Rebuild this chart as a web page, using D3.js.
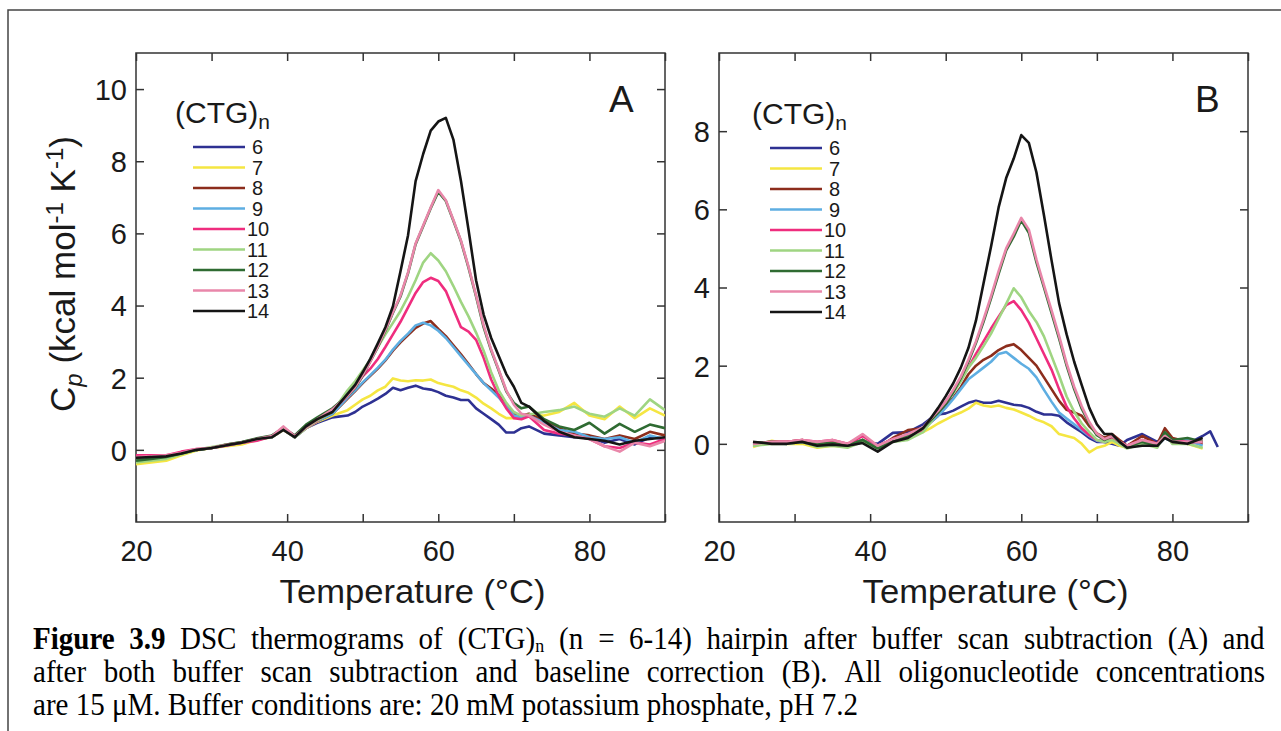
<!DOCTYPE html>
<html>
<head>
<meta charset="utf-8">
<script src="https://cdn.jsdelivr.net/npm/d3@7"></script>
<style>
  body { margin: 0; background: #fff; }
  svg { display: block; }
</style>
</head>
<body>
<script>
var tempsA = [20,22,24,26,28,30,32,34,36,38,39.5,41,42.5,44,46,
  48,49,50,51,52,53,54,55,56,57,58,59,60,61,62,63,64,65,66,67,68,69,70,71,72,
  74,76,78,80,82,84,86,88,90];
var tempsB = [24.5,27,29,31,33,35,37,39,41,43,45,
  47,48,49,50,51,52,53,54,55,56,57,58,59,60,61,62,63,64,65,66,67,68,69,70,71,72,
  73,74,76,78,79,80,82,84,85,86];

// (CTG)n repeat numbers and their line colours
var repeats = ["6","7","8","9","10","11","12","13","14"];
var colors = ["#2e3192","#f5e642","#8c2d1c","#5eaee2","#ef2d7e","#9fd582","#2f6b32","#e987aa","#151515"];

// Panel A: after buffer scan subtraction (kcal mol-1 K-1)
var cpA6 = [-0.3,-0.25,-0.22,-0.1,0.0,0.05,0.12,0.2,0.3,0.35,0.55,0.35,0.6,0.75,0.9,
  0.95,1.05,1.2,1.3,1.42,1.55,1.72,1.65,1.72,1.78,1.7,1.67,1.6,1.5,1.45,1.38,1.38,1.15,1.0,0.85,0.7,0.48,0.48,0.6,0.65,
  0.45,0.4,0.35,0.35,0.2,0.3,0.15,0.35,0.3];
var cpA7 = [-0.4,-0.35,-0.3,-0.15,-0.02,0.05,0.1,0.15,0.28,0.35,0.55,0.35,0.6,0.78,0.95,
  1.1,1.25,1.4,1.5,1.65,1.75,1.98,1.92,1.9,1.93,1.92,1.95,1.85,1.8,1.75,1.65,1.58,1.45,1.28,1.15,1.0,0.88,0.88,0.93,0.95,
  0.95,1.05,1.3,0.95,0.85,1.2,0.88,1.15,0.95];
var cpA8 = [-0.25,-0.22,-0.18,-0.08,0.0,0.05,0.15,0.2,0.3,0.38,0.6,0.35,0.62,0.8,1.0,
  1.42,1.63,1.85,2.05,2.25,2.48,2.75,2.98,3.18,3.38,3.5,3.57,3.35,3.15,2.9,2.65,2.38,2.1,1.85,1.7,1.52,1.25,1.0,0.95,1.0,
  0.8,0.6,0.45,0.4,0.3,0.4,0.3,0.5,0.4];
var cpA9 = [-0.3,-0.25,-0.2,-0.1,0.0,0.05,0.12,0.2,0.28,0.36,0.58,0.35,0.6,0.8,1.0,
  1.45,1.65,1.87,2.07,2.28,2.5,2.78,3.02,3.22,3.45,3.52,3.45,3.3,3.1,2.85,2.6,2.35,2.1,1.85,1.65,1.45,1.2,0.95,0.9,0.95,
  0.75,0.55,0.5,0.35,0.3,0.35,0.2,0.4,0.3];
var cpA10 = [-0.15,-0.15,-0.15,-0.05,0.02,0.05,0.12,0.2,0.25,0.38,0.62,0.38,0.6,0.8,1.1,
  1.5,1.75,2.04,2.25,2.52,2.85,3.2,3.55,3.95,4.35,4.65,4.77,4.68,4.4,3.9,3.4,3.28,3.05,2.55,1.95,1.5,1.15,0.88,0.85,0.93,
  0.55,0.45,0.4,0.3,0.1,0.05,0.2,0.15,0.3];
var cpA11 = [-0.35,-0.3,-0.25,-0.12,0.0,0.08,0.15,0.22,0.3,0.38,0.58,0.35,0.6,0.82,1.05,
  1.65,1.9,2.2,2.5,2.85,3.2,3.52,3.85,4.25,4.7,5.19,5.45,5.25,4.95,4.54,4.1,3.7,3.25,2.75,2.15,1.65,1.3,1.05,0.95,0.98,
  1.05,1.1,1.2,1.0,0.92,1.15,0.95,1.4,1.1];
var cpA12 = [-0.3,-0.25,-0.2,-0.1,0.0,0.05,0.15,0.22,0.32,0.4,0.6,0.4,0.7,0.9,1.15,
  1.5,1.72,2.05,2.45,2.85,3.3,3.8,4.25,4.9,5.7,6.2,6.7,7.15,6.9,6.35,5.78,5.05,4.25,3.4,2.75,2.2,1.62,1.3,1.15,1.2,
  0.85,0.65,0.55,0.75,0.45,0.72,0.5,0.7,0.6];
var cpA13 = [-0.2,-0.18,-0.15,-0.08,0.02,0.06,0.14,0.2,0.3,0.38,0.65,0.38,0.62,0.85,1.12,
  1.5,1.74,2.07,2.45,2.87,3.32,3.82,4.28,4.92,5.72,6.22,6.72,7.2,6.92,6.37,5.8,5.08,4.28,3.45,2.78,2.22,1.65,1.25,1.0,0.95,
  0.7,0.5,0.4,0.3,0.1,-0.05,0.2,0.1,0.25];
var cpA14 = [-0.22,-0.2,-0.18,-0.1,0.0,0.05,0.13,0.2,0.3,0.35,0.55,0.35,0.65,0.85,1.05,
  1.55,1.8,2.15,2.52,2.95,3.4,3.98,4.95,5.95,7.45,8.2,8.85,9.1,9.2,8.6,7.45,6.1,4.7,3.75,3.1,2.6,2.1,1.75,1.3,1.2,
  0.8,0.5,0.35,0.3,0.25,0.15,0.25,0.3,0.35];

// Panel B: after buffer subtraction and baseline correction
var cpB6 = [0.0,0.03,0.02,0.05,-0.05,0.0,-0.05,0.05,0.0,0.28,0.3,
  0.5,0.65,0.75,0.78,0.85,0.95,1.05,1.1,1.05,1.05,1.1,1.05,1.0,0.98,0.92,0.82,0.75,0.75,0.72,0.55,0.42,0.3,0.15,0.05,0.05,0.0,
  -0.05,0.1,0.25,0.05,0.2,0.05,0.0,0.2,0.32,-0.08];
var cpB7 = [-0.08,0.08,0.0,0.0,-0.1,-0.05,-0.08,0.1,-0.05,0.1,0.15,
  0.3,0.4,0.52,0.62,0.72,0.8,0.9,1.05,0.98,0.95,0.98,0.92,0.88,0.8,0.72,0.62,0.55,0.45,0.25,0.2,0.15,0.0,-0.22,-0.1,-0.05,0.05,
  -0.05,-0.1,0.0,-0.05,0.2,0.05,0.0,-0.12,null,null];
var cpB8 = [0.02,0.05,0.05,0.1,0.0,0.05,0.0,0.1,-0.1,0.15,0.35,
  0.4,0.55,0.72,0.95,1.18,1.45,1.78,2.0,2.15,2.25,2.4,2.5,2.55,2.4,2.2,2.0,1.7,1.4,1.1,0.87,0.8,0.72,0.45,0.27,0.15,0.25,
  0.1,-0.05,0.2,0.0,0.4,0.15,0.05,0.0,null,null];
var cpB9 = [-0.05,0.03,0.0,0.05,-0.05,0.0,-0.05,0.1,-0.1,0.1,0.15,
  0.35,0.55,0.72,0.92,1.15,1.4,1.65,1.8,1.95,2.1,2.3,2.35,2.2,2.05,1.92,1.7,1.38,1.08,0.8,0.65,0.5,0.35,0.2,0.08,0.05,0.15,
  0.0,-0.1,0.05,-0.05,0.15,0.05,0.1,-0.05,null,null];
var cpB10 = [0.0,0.05,0.05,0.1,0.05,0.1,0.0,0.2,-0.05,0.12,0.2,
  0.35,0.6,0.85,1.08,1.35,1.65,1.95,2.3,2.62,2.95,3.25,3.55,3.65,3.42,3.1,2.7,2.3,1.9,1.4,0.95,0.65,0.4,0.22,0.1,0.05,0.15,
  0.05,-0.05,0.1,0.0,0.2,0.1,0.05,0.05,null,null];
var cpB11 = [-0.05,0.0,0.0,0.05,-0.08,-0.05,-0.1,0.05,-0.1,0.05,0.1,
  0.3,0.55,0.82,1.05,1.3,1.6,1.95,2.2,2.5,2.82,3.2,3.58,3.98,3.75,3.4,3.12,2.75,2.25,1.75,1.21,0.82,0.52,0.3,0.1,0.05,0.1,
  0.0,-0.12,0.0,-0.1,0.25,0.0,0.0,-0.1,null,null];
var cpB12 = [0.02,0.05,0.02,0.08,0.0,0.02,-0.05,0.1,-0.12,0.08,0.2,
  0.4,0.6,0.8,1.02,1.32,1.68,2.1,2.58,3.12,3.72,4.35,4.95,5.3,5.72,5.4,4.65,4.0,3.35,2.7,2.0,1.4,0.9,0.52,0.22,0.1,0.2,
  0.05,-0.08,0.05,-0.05,0.3,0.1,0.15,0.05,null,null];
var cpB13 = [0.0,0.05,0.05,0.1,0.05,0.1,0.0,0.25,-0.05,0.12,0.25,
  0.42,0.64,0.85,1.08,1.38,1.72,2.15,2.62,3.18,3.78,4.42,5.0,5.38,5.78,5.48,4.72,4.06,3.42,2.76,2.06,1.46,0.96,0.56,0.26,0.12,0.2,
  0.05,-0.05,0.1,0.0,0.2,0.05,0.05,0.05,null,null];
var cpB14 = [0.05,0.0,0.0,0.05,-0.05,-0.02,-0.05,0.02,-0.2,0.05,0.15,
  0.4,0.65,0.92,1.22,1.55,1.95,2.45,3.15,4.1,5.05,6.05,6.8,7.3,7.9,7.7,6.95,5.85,4.7,3.6,2.8,2.1,1.5,0.92,0.5,0.25,0.25,
  0.05,-0.1,-0.05,-0.05,0.15,0.05,0.0,0.15,null,null];

// Tick values
var xTicks = [20,30,40,50,60,70,80,90];
var xTickLabels = [20,40,60,80];
var yTicksA = [0,2,4,6,8,10];
var yTicksB = [0,2,4,6,8];

// Caption lines: "**" marks bold words, "_n" a subscript n
var captionLines = [
  "**Figure **3.9 DSC thermograms of (CTG)_n (n = 6-14) hairpin after buffer scan subtraction (A) and",
  "after both buffer scan subtraction and baseline correction (B). All oligonucleotide concentrations",
  "are 15 \u03bcM. Buffer conditions are: 20 mM potassium phosphate, pH 7.2"
];

var svgWidth = 1281;
var svgHeight = 731;
var sans = "'Liberation Sans', Arial, Helvetica, sans-serif";
var serif = "'Liberation Serif', 'Times New Roman', serif";

var svg = d3.select("body").append("svg")
  .attr("width", svgWidth)
  .attr("height", svgHeight);

// page border (top and left edge of the figure cell)
svg.append("path")
  .attr("d", "M8,731 L8,10 L1281,10")
  .attr("fill", "none")
  .attr("stroke", "#444")
  .attr("stroke-width", 1.5);

function drawPanel(p) {
  var width = p.right - p.left;
  var height = p.bottom - p.top;
  var g = svg.append("g").attr("transform", `translate(${p.left}, ${p.top})`);

  var x = d3.scaleLinear().domain([20, 90]).range([0, width]);
  var y = d3.scaleLinear().domain(p.yDomain).range([height, 0]);

  // Axes: inward ticks on all four sides
  g.append("g")
    .attr("transform", `translate(0, ${height})`)
    .call(d3.axisBottom(x).tickValues(xTicks).tickSize(-8).tickPadding(18)
      .tickFormat(d => xTickLabels.indexOf(d) >= 0 ? d : ""));
  g.append("g")
    .call(d3.axisTop(x).tickValues(xTicks).tickSize(-8).tickFormat(""));
  var left = g.append("g")
    .call(d3.axisLeft(y).tickValues(p.yTicks).tickSize(-8).tickPadding(9));
  g.append("g")
    .attr("transform", `translate(${width}, 0)`)
    .call(d3.axisRight(y).tickValues(p.yTicks).tickSize(-8).tickFormat(""));

  g.selectAll(".domain").remove();
  g.selectAll(".tick line").attr("stroke", "#333").attr("stroke-width", 1.5);
  g.selectAll(".tick text")
    .attr("font-family", sans)
    .attr("font-size", 29)
    .attr("fill", "#1a1a1a");
  left.selectAll(".tick text").attr("dy", "0.36em");

  // frame
  g.append("rect")
    .attr("width", width)
    .attr("height", height)
    .attr("fill", "none")
    .attr("stroke", "#333")
    .attr("stroke-width", 1.5);

  g.append("clipPath").attr("id", "clip" + p.name)
    .append("rect").attr("width", width).attr("height", height);

  var line = d3.line()
    .defined(d => d[1] != null)
    .x(d => x(d[0]))
    .y(d => y(d[1]));

  var curves = g.append("g").attr("clip-path", `url(#clip${p.name})`);
  p.series.forEach(function(vals, i) {
    curves.append("path")
      .datum(p.temps.map((t, j) => [t, vals[j]]))
      .attr("d", line)
      .attr("fill", "none")
      .attr("stroke", colors[i])
      .attr("stroke-width", 2.6)
      .attr("stroke-linejoin", "round");
  });

  // Legend
  var lg = svg.append("g");
  var title = lg.append("text")
    .attr("x", p.legendX - 18)
    .attr("y", p.legendY - 24)
    .attr("font-family", sans)
    .attr("font-size", 30)
    .attr("fill", "#1a1a1a");
  title.append("tspan").text("(CTG)");
  title.append("tspan").attr("font-size", 21).attr("dy", 6).text("n");

  repeats.forEach(function(r, i) {
    var ly = p.legendY + i * 20.5;
    lg.append("line")
      .attr("x1", p.legendX).attr("x2", p.legendX + 52)
      .attr("y1", ly).attr("y2", ly)
      .attr("stroke", colors[i])
      .attr("stroke-width", 2.6);
    lg.append("text")
      .attr("x", p.legendX + (r.length > 1 ? 54 : 59))
      .attr("y", ly)
      .attr("dy", "0.36em")
      .attr("font-family", sans)
      .attr("font-size", 20)
      .attr("fill", "#1a1a1a")
      .text(r);
  });

  // Panel letter
  svg.append("text")
    .attr("x", p.letterX)
    .attr("y", 112)
    .attr("font-family", sans)
    .attr("font-size", 37)
    .attr("fill", "#1a1a1a")
    .text(p.name);

  // x-axis title
  var xt = svg.append("text")
    .attr("font-family", sans)
    .attr("font-size", 33)
    .attr("fill", "#1a1a1a")
    .attr("text-anchor", "middle")
    .text("Temperature (\u00b0C)");
  var w = xt.node().getBBox().width;
  xt.attr("transform", `translate(${p.left + width / 2 + 12}, 603) scale(${266 / w}, 1)`);
}

drawPanel({
  name: "A", left: 136, right: 665, top: 53, bottom: 522,
  yDomain: [-2, 11], yTicks: yTicksA, temps: tempsA,
  series: [cpA6, cpA7, cpA8, cpA9, cpA10, cpA11, cpA12, cpA13, cpA14],
  legendX: 193, legendY: 147, letterX: 609
});
drawPanel({
  name: "B", left: 719, right: 1248, top: 53, bottom: 522,
  yDomain: [-2, 10], yTicks: yTicksB, temps: tempsB,
  series: [cpB6, cpB7, cpB8, cpB9, cpB10, cpB11, cpB12, cpB13, cpB14],
  legendX: 770, legendY: 148, letterX: 1195
});

// y-axis title for panel A
var yTitle = svg.append("text")
  .attr("transform", "translate(75, 274) rotate(-90)")
  .attr("text-anchor", "middle")
  .attr("font-family", sans)
  .attr("font-size", 35)
  .attr("fill", "#1a1a1a");
yTitle.append("tspan").text("C");
yTitle.append("tspan").attr("font-size", 24).attr("font-style", "italic").attr("dy", 7).text("p");
yTitle.append("tspan").attr("dy", -7).text(" (kcal mol");
yTitle.append("tspan").attr("font-size", 24).attr("dy", -12).text("-1");
yTitle.append("tspan").attr("dy", 12).text(" K");
yTitle.append("tspan").attr("font-size", 24).attr("dy", -12).text("-1");
yTitle.append("tspan").attr("dy", 12).text(")");

// Caption: condensed Times, lines 1-2 justified, last line ragged
var capBase = [649, 682, 715];
var capLeft = 33, capRight = 1265, lastWidth = 825;
var capSize = 31;

function layoutWords(g, str) {
  return str.split(" ").map(function(wd) {
    var t = g.append("text")
      .attr("font-family", serif)
      .attr("font-size", capSize)
      .attr("fill", "#000");
    var bold = wd.indexOf("**") === 0;
    wd = wd.replace(/\*\*/g, "");
    if (bold) t.attr("font-weight", "bold");
    var parts = wd.split("_");
    t.append("tspan").text(parts[0]);
    if (parts.length > 1) {
      t.append("tspan").attr("font-size", capSize * 0.62).attr("dy", 3).text(parts[1]);
    }
    return { node: t, w: t.node().getBBox().width };
  });
}

var probe = svg.append("text").attr("font-family", serif).attr("font-size", capSize).text("x x");
var probe2 = svg.append("text").attr("font-family", serif).attr("font-size", capSize).text("xx");
var spaceW = probe.node().getBBox().width - probe2.node().getBBox().width;
probe.remove(); probe2.remove();

var capGroups = captionLines.map(function(str) {
  var g = svg.append("g");
  return { g: g, words: layoutWords(g, str) };
});

// horizontal squeeze taken from the unjustified last line
var last = capGroups[capGroups.length - 1].words;
var lastNatural = d3.sum(last, d => d.w) + (last.length - 1) * spaceW;
var squeeze = lastWidth / lastNatural;

capGroups.forEach(function(cg, i) {
  var total = d3.sum(cg.words, d => d.w);
  var gap = spaceW;
  if (i < capGroups.length - 1) {
    gap = ((capRight - capLeft) / squeeze - total) / (cg.words.length - 1);
  }
  var cx = 0;
  cg.words.forEach(function(wd) {
    wd.node.attr("x", cx);
    cx += wd.w + gap;
  });
  cg.g.attr("transform", `translate(${capLeft}, ${capBase[i]}) scale(${squeeze}, 1)`);
});
</script>
</body>
</html>
